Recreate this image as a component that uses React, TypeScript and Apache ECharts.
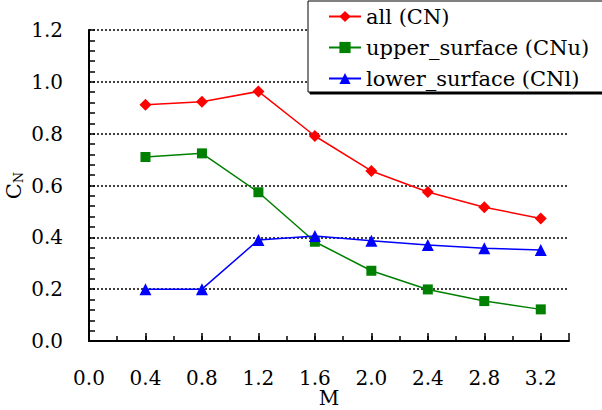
import React, { useEffect, useRef } from "react";
import * as echarts from "echarts";

const machNumbers = [0.4, 0.8, 1.2, 1.6, 2.0, 2.4, 2.8, 3.2];
const allCN = [0.912, 0.923, 0.963, 0.791, 0.656, 0.575, 0.516, 0.473];
const upperCN = [0.71, 0.724, 0.574, 0.383, 0.271, 0.199, 0.154, 0.122];
const lowerCN = [0.2, 0.2, 0.39, 0.405, 0.387, 0.37, 0.358, 0.351];
const seriesNames = ["all (CN)", "upper_surface (CNu)", "lower_surface (CNl)"];

const FONT = "DejaVu Serif";

function pairs(ys: number[]) {
  return machNumbers.map((x, i) => [x, ys[i]]);
}

export default function App() {
  const ref = useRef<HTMLDivElement>(null);
  useEffect(() => {
    if (!ref.current) return;
    const chart = echarts.init(ref.current, undefined, { renderer: "svg" });
    const lineSeries = (name: string, ys: number[], color: string, symbol: string, size: number) => ({
      name,
      type: "line",
      xAxisIndex: 0,
      data: pairs(ys),
      symbol,
      symbolSize: size,
      itemStyle: { color },
      lineStyle: { color, width: 1.5 },
      z: 3,
    });
    chart.setOption({
      animation: false,
      backgroundColor: "#ffffff",
      textStyle: { fontFamily: FONT },
      grid: { left: 89, right: 33, top: 30, bottom: 69, containLabel: false, outerBoundsMode: "none" },
      legend: {
        left: 308,
        top: 1,
        orient: "vertical",
        data: seriesNames,
        backgroundColor: "#ffffff",
        borderColor: "#000000",
        borderWidth: 1,
        borderRadius: 0,
        shadowColor: "#000000",
        shadowOffsetX: 2,
        shadowOffsetY: 2,
        shadowBlur: 0,
        padding: [5, 40, 3, 20],
        itemWidth: 32,
        itemHeight: 14,
        itemGap: 10,
        textStyle: { fontFamily: FONT, fontSize: 21, color: "#000" },
        z: 10,
      },
      xAxis: [
        {
          type: "value",
          min: 0,
          max: 3.4,
          interval: 0.2,
          name: "M",
          nameLocation: "middle",
          nameGap: 47,
          nameMoveOverlap: false,
          nameTextStyle: { fontFamily: FONT, fontSize: 20, color: "#000", lineHeight: 20 },
          axisLine: { show: true, onZero: false, lineStyle: { color: "#000", width: 2 } },
          axisTick: { show: true, inside: true, length: 5, lineStyle: { color: "#000", width: 1.5 } },
          axisLabel: {
            margin: 27,
            fontFamily: FONT,
            fontSize: 20,
            color: "#000",
            showMaxLabel: false,
            formatter: (v: number) => (Math.round(v * 10) % 4 === 0 ? v.toFixed(1) : ""),
          },
          splitLine: { show: false },
        },
        {
          type: "value",
          position: "bottom",
          min: 0,
          max: 3.4,
          interval: 0.4,
          axisLine: { show: false },
          axisTick: { show: true, inside: true, length: 8, lineStyle: { color: "#000", width: 1.5 } },
          axisLabel: { show: false },
          splitLine: { show: false },
        },
      ],
      yAxis: [
        {
          type: "value",
          min: 0,
          max: 1.2,
          interval: 0.2,
          name: "{c|C}{n|N}",
          nameLocation: "middle",
          nameRotate: 90,
          nameGap: 64,
          nameMoveOverlap: false,
          nameTextStyle: {
            color: "#000",
            rich: {
              c: { fontFamily: FONT, fontSize: 21, color: "#000", lineHeight: 22 },
              n: { fontFamily: FONT, fontSize: 13, color: "#000", verticalAlign: "bottom", lineHeight: 22, padding: [4, 0, 0, 0] },
            },
          },
          axisLine: { show: true, onZero: false, lineStyle: { color: "#000", width: 2 } },
          axisTick: { show: true, inside: true, length: 6, lineStyle: { color: "#000", width: 1.5 } },
          minorTick: { show: true, splitNumber: 5, length: 6, lineStyle: { color: "#000", width: 1.5 } },
          axisLabel: {
            margin: 26,
            fontFamily: FONT,
            fontSize: 20,
            color: "#000",
            formatter: (v: number) => v.toFixed(1),
          },
          splitLine: { show: true, lineStyle: { color: "#000", type: [2, 2], width: 1.5 } },
        },
        {
          type: "value",
          position: "right",
          min: 0,
          max: 1.2,
          interval: 0.2,
          axisLine: { show: true, lineStyle: { color: "#000", width: 1.5 } },
          axisTick: { show: false },
          axisLabel: { show: false },
          splitLine: { show: false },
        },
      ],
      series: [
        lineSeries(seriesNames[0], allCN, "#ff0000", "diamond", 12),
        lineSeries(seriesNames[1], upperCN, "#008000", "rect", 10),
        lineSeries(seriesNames[2], lowerCN, "#0000ff", "triangle", 12),
      ],
    });
    return () => chart.dispose();
  }, []);
  return <div ref={ref} style={{ width: 602, height: 410, position: "absolute", left: 0, top: 0 }} />;
}
